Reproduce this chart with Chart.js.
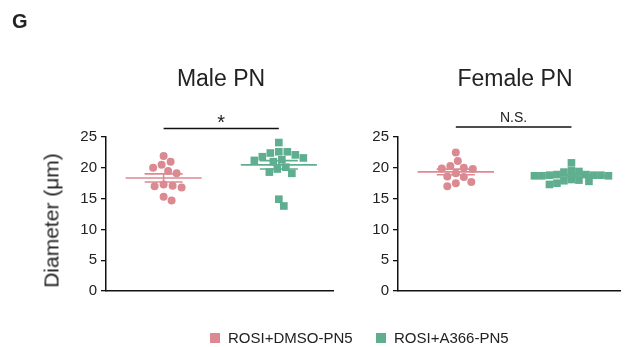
<!DOCTYPE html>
<html>
<head>
<meta charset="utf-8">
<script src="https://cdn.jsdelivr.net/npm/chart.js@4.4.1/dist/chart.umd.min.js"></script>
<style>
  html, body { margin: 0; padding: 0; background: #fff; }
  #wrap { position: relative; width: 640px; height: 347px; overflow: hidden;
          font-family: "Liberation Sans", Arial, sans-serif; color: #222; }
  #wrap canvas { position: absolute; left: 0; top: 0; }
  .txt { position: absolute; white-space: nowrap; }
  .item { position: absolute; top: 330px; height: 15px; display: flex; align-items: center;
          font-size: 15px; line-height: 15px; }
  .sw { width: 10px; height: 10px; margin-right: 8px; }
</style>
</head>
<body>
<div id="wrap">
  <canvas id="male" width="640" height="347"></canvas>
  <canvas id="female" width="640" height="347"></canvas>
  <div class="txt" style="left:12px;top:11px;font-size:20px;line-height:20px;font-weight:bold;">G</div>
  <div class="txt" id="tMale" style="left:121px;top:67px;width:200px;text-align:center;font-size:23px;line-height:23px;"></div>
  <div class="txt" id="tFemale" style="left:415px;top:67px;width:200px;text-align:center;font-size:23px;line-height:23px;"></div>
  <div class="txt" id="yTitle" style="left:-49px;top:210px;width:200px;height:21px;text-align:center;font-size:21px;line-height:21px;transform:rotate(-90deg);transform-origin:50% 50%;"></div>
  <div id="legend"></div>
</div>
<script>
// Groups, panels and axis
const groups = ['ROSI+DMSO-PN5', 'ROSI+A366-PN5'];
const panels = ['Male PN', 'Female PN'];
const yTitle = 'Diameter (\u03bcm)';
const yTicks = [0, 5, 10, 15, 20, 25];
const significance = ['*', 'N.S.'];

// Pronucleus diameters (µm)
const maleDMSO   = [21.9, 21.0, 20.5, 20.0, 19.5, 19.1, 17.3, 17.1, 17.0, 16.8, 15.3, 14.7];
const maleA366   = [24.1, 22.6, 22.6, 22.4, 22.1, 21.8, 21.6, 21.3, 21.2, 21.0, 20.1, 19.8, 19.3, 19.1, 14.9, 13.8];
const femaleDMSO = [22.5, 21.1, 20.3, 20.0, 19.9, 19.8, 19.1, 18.6, 18.5, 17.7, 17.5, 17.0];
const femaleA366 = [20.8, 19.5, 19.4, 19.3, 18.9, 18.9, 18.8, 18.8, 18.8, 18.7, 18.7, 18.7, 18.1, 18.0, 17.9, 17.8, 17.5, 17.3];

const PINK = '#dc8a92';
const GREEN = '#5fae8f';
const COLORS = [PINK, GREEN];
const FONT = '"Liberation Sans", Arial, sans-serif';

document.getElementById('tMale').textContent = panels[0];
document.getElementById('tFemale').textContent = panels[1];
document.getElementById('yTitle').textContent = yTitle;

// legend
const legend = document.getElementById('legend');
[210, 376].forEach((left, i) => {
  const it = document.createElement('div');
  it.className = 'item';
  it.style.left = left + 'px';
  const sw = document.createElement('span');
  sw.className = 'sw';
  sw.style.background = COLORS[i];
  const lb = document.createElement('span');
  lb.textContent = groups[i];
  it.appendChild(sw); it.appendChild(lb);
  legend.appendChild(it);
});

function stats(v) {
  const n = v.length;
  const m = v.reduce((a, b) => a + b, 0) / n;
  const sd = Math.sqrt(v.reduce((a, b) => a + (b - m) ** 2, 0) / (n - 1));
  return { m, s: sd / Math.sqrt(n) };
}

// mean line plus SEM whiskers, as line datasets
function summaryLines(v, c, color) {
  const { m, s } = stats(v);
  const seg = (pts) => ({
    type: 'line', data: pts, borderColor: color, borderWidth: 1.6,
    pointRadius: 0, showLine: true, fill: false, order: 0
  });
  return [
    seg([{ x: c - 0.33, y: m }, { x: c + 0.33, y: m }]),
    seg([{ x: c - 0.165, y: m + s }, { x: c + 0.165, y: m + s }]),
    seg([{ x: c - 0.165, y: m - s }, { x: c + 0.165, y: m - s }]),
    seg([{ x: c, y: m - s }, { x: c, y: m + s }])
  ];
}

function pointSet(v, c, color, style, radius) {
  return {
    type: 'scatter', data: v.map(y => ({ x: c, y })),
    backgroundColor: color, borderColor: color, borderWidth: 0,
    pointStyle: style, pointRadius: radius, pointHoverRadius: radius, order: 1
  };
}

// greedy beeswarm in pixel space: each point takes the nearest free spot to the group centre
function swarm(values, center, xs, ys, diam) {
  const cx = xs.getPixelForValue(center);
  const placed = [];
  const out = new Array(values.length);
  const idx = values.map((_, i) => i).sort((a, b) => values[b] - values[a]);
  for (const i of idx) {
    const py = ys.getPixelForValue(values[i]);
    let off = 0;
    for (let k = 0; k < 800; k++) {
      const step = Math.ceil(k / 2) * 0.5;
      const cand = k % 2 ? step : -step;
      const hit = placed.some(p => (p.x - cand) ** 2 + (p.y - py) ** 2 < diam * diam);
      if (!hit) { off = cand; break; }
    }
    placed.push({ x: off, y: py });
    out[i] = { x: xs.getValueForPixel(cx + off), y: values[i] };
  }
  return out;
}

const bracket = {
  id: 'bracket',
  afterDraw(chart, args, opts) {
    const { ctx, chartArea } = chart;
    const x = chart.scales.x;
    const x0 = x.getPixelForValue(0), x1 = x.getPixelForValue(1);
    const y = chartArea.top - opts.gap;
    ctx.save();
    ctx.strokeStyle = '#111';
    ctx.lineWidth = 1.5;
    ctx.beginPath();
    ctx.moveTo(x0, y); ctx.lineTo(x1, y);
    ctx.stroke();
    ctx.fillStyle = '#222';
    ctx.font = opts.font;
    ctx.textAlign = 'center';
    ctx.textBaseline = 'alphabetic';
    ctx.fillText(opts.text, (x0 + x1) / 2 + opts.dx, y - opts.lift);
    ctx.restore();
  }
};

function makeChart(id, dmso, a366, xMax, padding, mark, diams) {
  const datasets = [
    ...summaryLines(dmso, 0, PINK),
    ...summaryLines(a366, 1, GREEN),
    pointSet(dmso, 0, PINK, 'circle', 4),
    pointSet(a366, 1, GREEN, 'rect', 5.4)
  ];
  const chart = new Chart(document.getElementById(id), {
    type: 'scatter',
    data: { datasets },
    plugins: [bracket],
    options: {
      responsive: false, animation: false, devicePixelRatio: 1,
      layout: { padding },
      plugins: { legend: { display: false }, tooltip: { enabled: false }, bracket: mark },
      scales: {
        x: {
          type: 'linear', min: -0.5, max: xMax,
          ticks: { display: false }, grid: { display: false },
          border: { display: true, color: '#111', width: 1.5 },
          afterFit: s => { s.height = 0; }
        },
        y: {
          type: 'linear', min: 0, max: 25,
          afterBuildTicks: s => { s.ticks = yTicks.map(v => ({ value: v })); },
          afterFit: s => { s.width = 40; },
          grid: { display: true, drawOnChartArea: false, drawTicks: true, tickLength: 5, color: '#111', lineWidth: 1.3 },
          border: { display: true, color: '#111', width: 1.5 },
          ticks: { padding: 4, color: '#222', font: { family: FONT, size: 15 } }
        }
      }
    }
  });
  const n = datasets.length;
  chart.data.datasets[n - 2].data = swarm(dmso, 0, chart.scales.x, chart.scales.y, diams[0]);
  chart.data.datasets[n - 1].data = swarm(a366, 1, chart.scales.x, chart.scales.y, diams[1]);
  chart.update('none');
  return chart;
}

makeChart('male', maleDMSO, maleA366, 1.47,
  { left: 66, right: 307, top: 137, bottom: 56 },
  { text: significance[0], font: '20px ' + FONT, gap: 8.5, lift: 0, dx: 0 },
  [8.8, 8.4]);
makeChart('female', femaleDMSO, femaleA366, 1.42,
  { left: 358, right: 20, top: 137, bottom: 56 },
  { text: significance[1], font: '14px ' + FONT, gap: 10, lift: 5.5, dx: 0 },
  [8.8, 7.4]);
</script>
</body>
</html>
